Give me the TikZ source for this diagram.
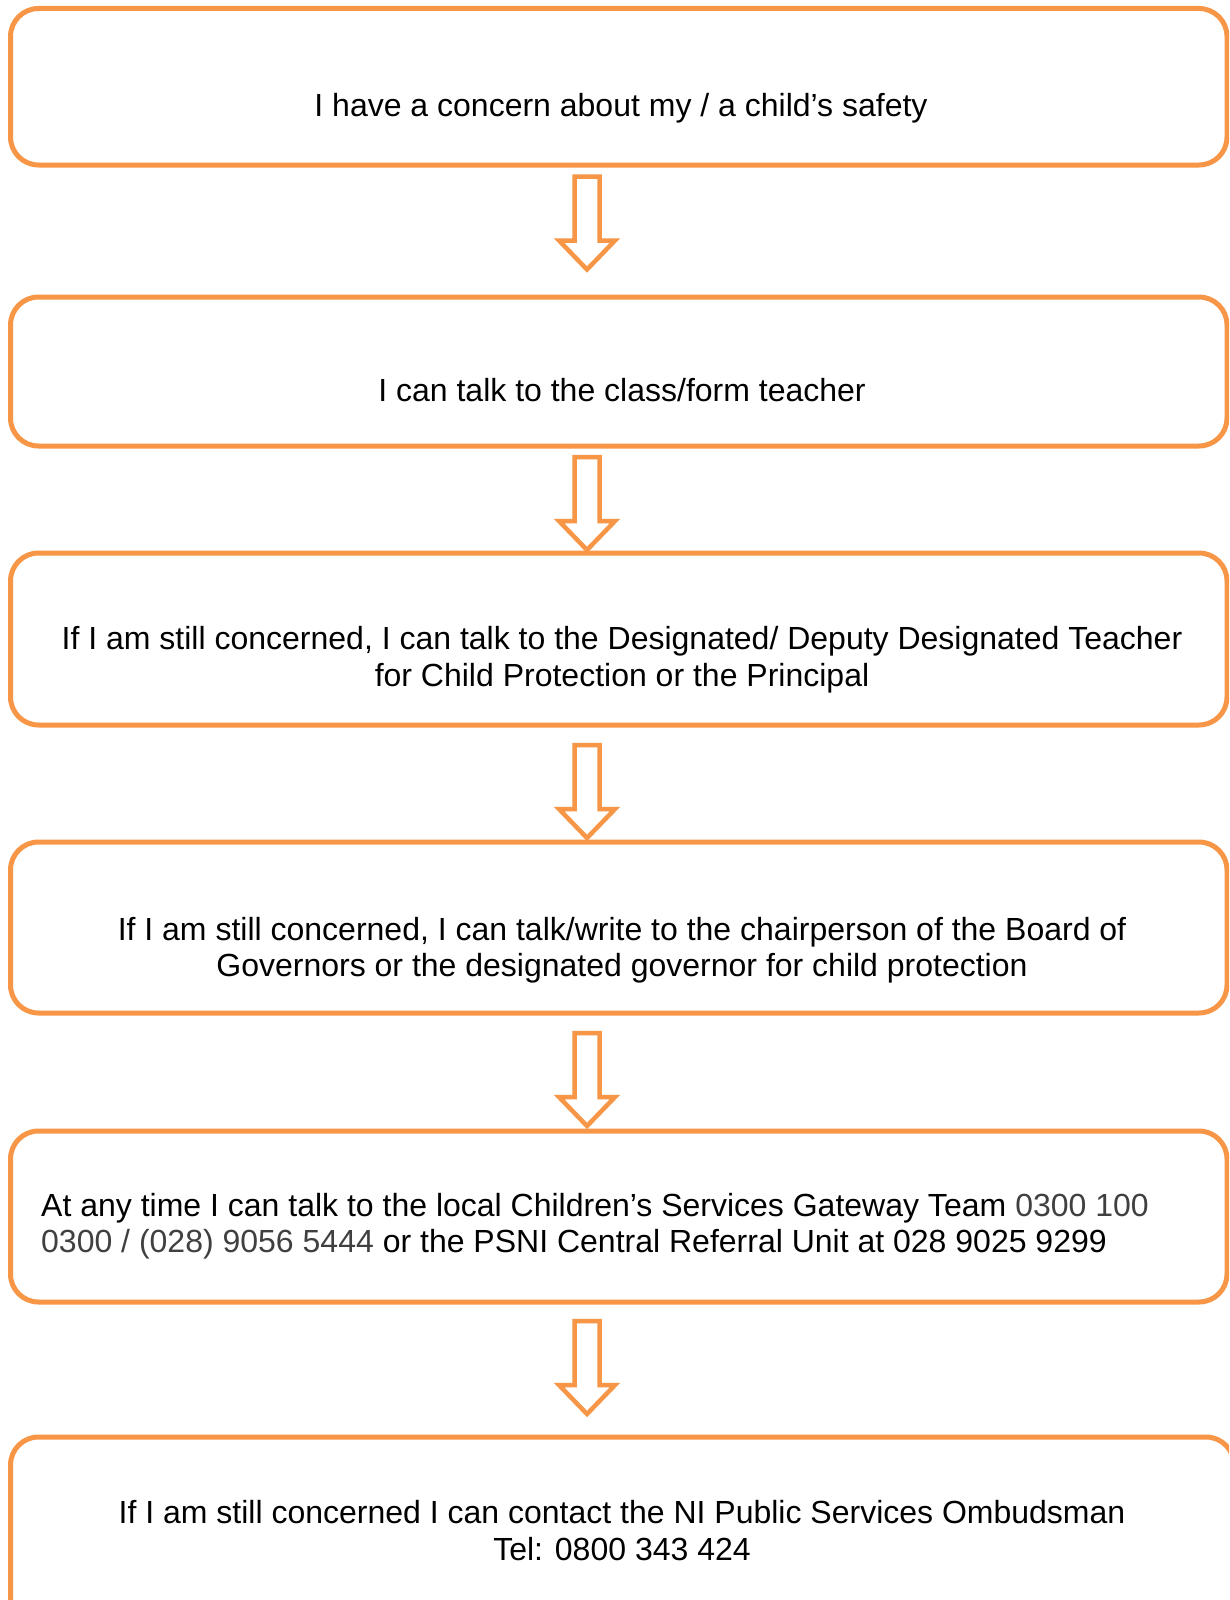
\documentclass[tikz,border=0pt]{standalone}
\usepackage{fontspec}
\setmainfont{Liberation Sans}
\definecolor{boxorange}{HTML}{F79646}
\definecolor{numgray}{HTML}{404040}
\newcommand\flowarrow[2]{%
  \draw[arrowline] (#1-12.5,#2) -- (#1+12.5,#2) -- (#1+12.5,#2+64) -- (#1+28,#2+64)
    -- (#1,#2+93) -- (#1-28,#2+64) -- (#1-12.5,#2+64) -- cycle;}
\begin{document}
\begin{tikzpicture}[x=1pt,y=-1pt,
  flowbox/.style={draw=boxorange, line width=5pt, rounded corners=28pt, inner sep=0pt},
  arrowline/.style={draw=boxorange, line width=4.5pt, line join=miter, fill=white},
  txt/.style={inner sep=0pt, anchor=base, font=\fontsize{32}{37}\selectfont},
  ltxt/.style={inner sep=0pt, anchor=base west, font=\fontsize{32}{37}\selectfont}]
\useasboundingbox (0,0) rectangle (1229,1600);
\clip (0,0) rectangle (1229,1600);
\fill[white] (0,0) rectangle (1229,1600);

\node[flowbox, minimum width=1216.5pt, minimum height=156.5pt] (b1) at (618.75,86.75) {};
\node[flowbox, minimum width=1216.5pt, minimum height=149pt] (b2) at (618.75,371.5) {};
\node[flowbox, minimum width=1216.5pt, minimum height=172pt] (b3) at (618.75,639) {};
\node[flowbox, minimum width=1216.5pt, minimum height=171pt] (b4) at (618.75,927.5) {};
\node[flowbox, minimum width=1216.5pt, minimum height=171pt] (b5) at (618.75,1216.5) {};
\node[flowbox, minimum width=1223.5pt, minimum height=203pt] (b6) at (622.25,1538.5) {};

\node[txt] (t1) at (621,117) {I have a concern about my / a child’s safety};
\node[txt] (t2) at (622,401) {I can talk to the class/form teacher};
\node[txt] (t3a) at (622,649) {If I am still concerned, I can talk to the Designated/ Deputy Designated Teacher};
\node[txt] (t3b) at (622,686) {for Child Protection or the Principal};
\node[txt] (t4a) at (622,940) {If I am still concerned, I can talk/write to the chairperson of the Board of};
\node[txt] (t4b) at (622,976) {Governors or the designated governor for child protection};
\node[ltxt] (t5a) at (41,1216.5) {At any time I can talk to the local Children’s Services Gateway Team \textcolor{numgray}{0300 100}};
\node[ltxt] (t5b) at (41,1252.5) {\textcolor{numgray}{0300 /\ (028) 9056 5444} or the PSNI Central Referral Unit at 028 9025 9299};
\node[txt] (t6a) at (622,1523) {If I am still concerned I can contact the NI Public Services Ombudsman};
\node[txt] (t6b) at (622,1560) {Tel: 0800 343 424};

\flowarrow{587}{176.5}
\flowarrow{587}{457}
\flowarrow{587}{745}
\flowarrow{587}{1033}
\flowarrow{587}{1321}
\end{tikzpicture}
\end{document}
